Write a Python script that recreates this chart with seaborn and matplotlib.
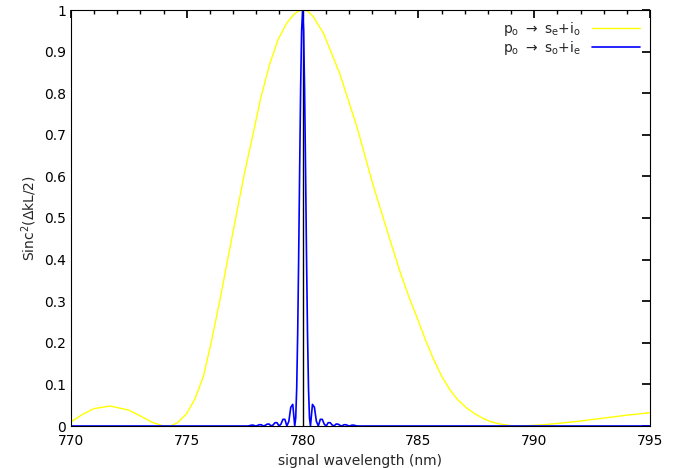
import matplotlib
matplotlib.use("Agg")
import matplotlib.pyplot as plt
import seaborn as sns
import pandas as pd
from matplotlib.ticker import MultipleLocator, FuncFormatter

sns.set_theme(style="white")
plt.rcParams['font.family'] = ['DejaVu Sans']

# yellow: p_o -> s_e + i_o
wl_e = [770, 770.5, 771, 771.7, 772.5, 773, 773.5, 774, 774.3, 774.6, 775.0, 775.35, 775.71, 776.05,
        776.43, 776.8, 777.15, 777.5, 777.87, 778.2, 778.59, 778.95, 779.31, 779.6, 779.8, 780,
        780.2, 780.45, 780.9, 781.6, 782.34, 783.05, 783.77, 784.2, 784.56, 784.93, 785.3, 785.64,
        786.0, 786.36, 786.7, 787.09, 787.45, 787.8, 788.15, 788.5, 789.1, 789.8, 790.4, 791, 792, 793, 794, 795]
val_e = [0.01, 0.028, 0.042, 0.048, 0.038, 0.024, 0.009, 0.0, 0.0, 0.008, 0.030, 0.065, 0.118, 0.20,
         0.303, 0.41, 0.511, 0.61, 0.704, 0.79, 0.872, 0.93, 0.968, 0.988, 0.997, 1.0,
         0.998, 0.985, 0.944, 0.848, 0.72, 0.578, 0.448, 0.372, 0.315, 0.262, 0.208, 0.162,
         0.12, 0.087, 0.063, 0.043, 0.029, 0.018, 0.010, 0.005, 0.0, 0.001, 0.003, 0.006, 0.012, 0.019, 0.026, 0.032]

# blue: p_o -> s_o + i_e (offsets from 780 nm)
off_o = [0, 0.0425, 0.085, 0.1275, 0.17, 0.2125, 0.255, 0.2975, 0.34, 0.425, 0.51, 0.595, 0.68,
         0.765, 0.85, 0.935, 1.02, 1.105, 1.19, 1.275, 1.36, 1.445, 1.53, 1.615, 1.7,
         1.785, 1.87, 1.955, 2.04, 2.125, 2.21, 2.295, 2.38, 2.6, 10, 15]
val_o = [1.0, 0.95, 0.811, 0.615, 0.405, 0.222, 0.090, 0.019, 0.0, 0.052, 0.045, 0.011, 0.0,
         0.016, 0.016, 0.0044, 0.0, 0.008, 0.008, 0.0025, 0.0, 0.0047, 0.0045, 0.0015, 0.0,
         0.003, 0.003, 0.001, 0.0, 0.002, 0.002, 0.0007, 0.0, 0.0, 0.0, 0.0]

wl_o = [780 - d for d in reversed(off_o[1:])] + [780 + d for d in off_o]
vo = list(reversed(val_o[1:])) + val_o
df_e = pd.DataFrame({"wl": wl_e, "v": val_e})
df_o = pd.DataFrame({"wl": wl_o, "v": vo})

fig = plt.figure(figsize=(6.79, 4.68), dpi=100)
ax = fig.add_axes([71/679, 42/468, 579/679, 416/468])
ax.plot([780, 780], [0, 1], color="black", lw=1)
sns.lineplot(data=df_e, x="wl", y="v", ax=ax, color="#ffff00", lw=1,
             label=r"p$_\mathregular{o}$ $\rightarrow$ s$_\mathregular{e}$+i$_\mathregular{o}$")
sns.lineplot(data=df_o, x="wl", y="v", ax=ax, color="#0000ff", lw=1.2,
             label=r"p$_\mathregular{o}$ $\rightarrow$ s$_\mathregular{o}$+i$_\mathregular{e}$")
ax.set_xlim(770, 795)
ax.set_ylim(0, 1)
ax.xaxis.set_major_locator(MultipleLocator(5))
ax.xaxis.set_minor_locator(MultipleLocator(1))
ax.yaxis.set_major_locator(MultipleLocator(0.1))
ax.yaxis.set_major_formatter(FuncFormatter(lambda v, p: f"{v:g}"))
ax.tick_params(which="both", direction="in", top=True, right=True, labelsize=10, colors="black")
ax.tick_params(axis="x", which="major", pad=6)
ax.tick_params(which="major", length=6)
ax.tick_params(which="minor", length=3)
for s in ax.spines.values():
    s.set_color("black"); s.set_linewidth(0.8)
ax.set_xlabel("signal wavelength (nm)", fontsize=10)
ax.set_ylabel(r"Sinc$^2$($\Delta$kL/2)", fontsize=10)
leg = ax.legend(loc="upper right", frameon=False, fontsize=10, handlelength=3.5,
                markerfirst=False, borderaxespad=0.3, labelspacing=0.1)
fig.savefig("out.png", dpi=100)
